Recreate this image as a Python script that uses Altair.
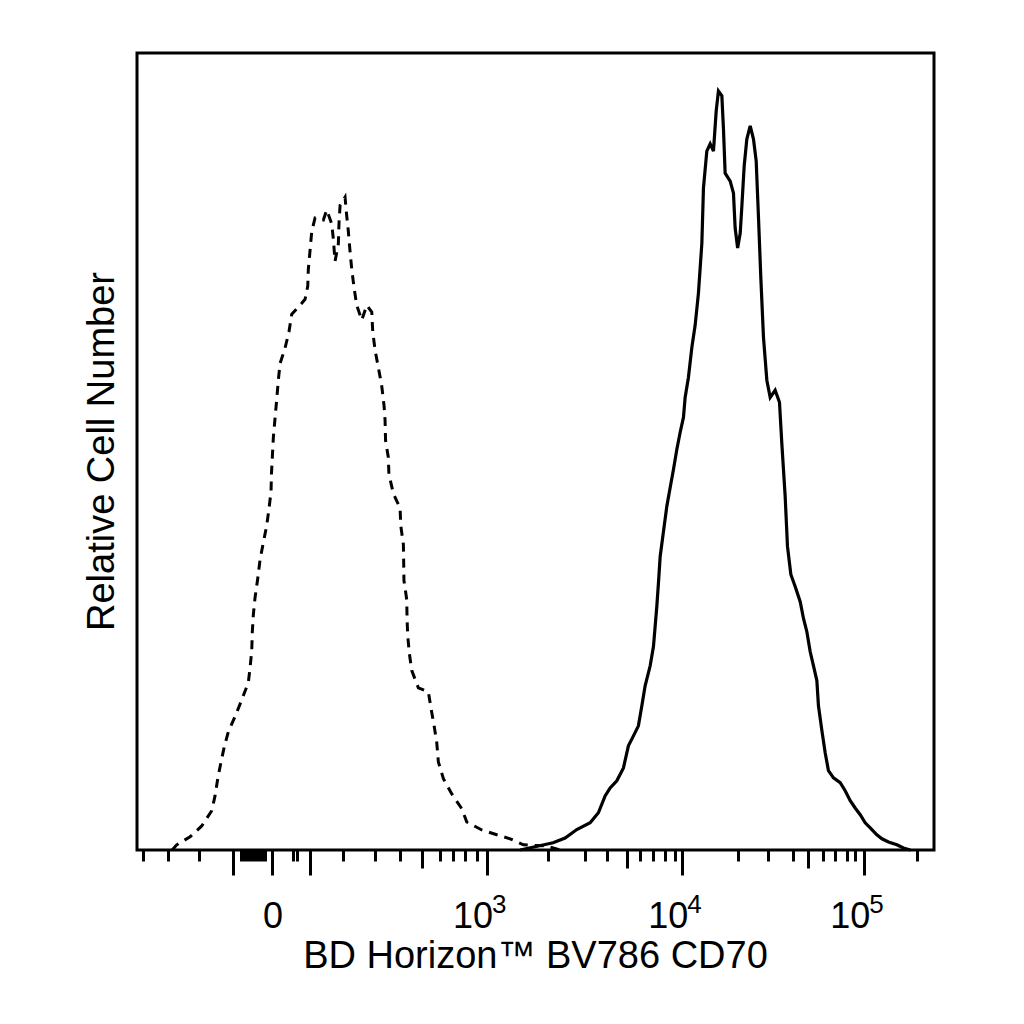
import pandas as pd
import altair as alt

# display channel (biexponential scale) and relative cell counts
iso_channel = [44, 49.6, 66.3, 80.9, 93.4, 97.5, 100.9, 105, 109.1, 114.1, 122.5, 130.9, 139.1, 141.3, 143.4,
               144.1, 145.4, 147.5, 150.9, 153.8, 157.9, 162.1, 165, 167.5, 168, 169.1, 170.4, 172.5, 174.6,
               176.6, 178.8, 185, 190, 193.4, 205.9, 210, 213.4, 214.1, 216.3, 218.4, 222.5, 232.9, 237.1,
               243.4, 245.4, 247.5, 251.6, 252.5, 253.8, 260, 262.1, 264.1, 266.3, 268.4, 271.3, 274.6, 280.9,
               287.1, 293.4, 294.6, 297.5, 301.6, 305.9, 308.8, 310, 310.6, 314.1, 314.8, 320.4, 328.8, 329.6,
               332.9, 333.3, 333.6, 337.1, 337.5, 338.4, 340.4, 343.4, 351.6, 364.1, 367.5, 371.3, 374.6,
               376.6, 382.9, 393.4, 405.9, 412.1, 430.9, 449.6, 466.3, 482.9, 512.1, 528.8]
iso_count = [0, 1.3, 3.3, 6, 9.8, 13.5, 17.8, 22, 25.8, 29.5, 33.3, 37.5, 41.8, 45.5, 49.8, 54.5, 58.8, 63,
             67.8, 72.5, 76.8, 81, 85.3, 89.5, 93.8, 98, 103, 107.8, 112.5, 117.3, 121.5, 125.3, 129.5, 133.8,
             136.5, 137.5, 140.8, 145, 149.8, 154.5, 157.8, 157.3, 159.8, 156.3, 152.5, 147, 151.3, 156.8, 161,
             163, 158.3, 154.5, 149.3, 145, 140.3, 136, 132.3, 136, 134.3, 129.5, 124.8, 120.5, 115.8, 110.8,
             107.3, 102.3, 98, 93.8, 89, 85.3, 81, 76.3, 71.5, 67.3, 62.5, 57.5, 53.3, 49, 44.8, 40.5, 39.5,
             35.3, 31, 26.8, 22, 17.8, 14, 10.3, 7, 5, 3.8, 2.8, 1.3, 1, 0]

cd70_channel = [478.8, 520, 535, 549.6, 566.3, 576.6, 585, 591.3, 599.6, 607.9, 614.1, 620.4, 626.6, 630.9,
                635, 641.3, 645.4, 647.5, 649.6, 651.6, 653.8, 657.9, 662.1, 666.3, 670.4, 674.6, 678.8,
                682.9, 685, 689.1, 693.4, 697.5, 701.6, 705.9, 707.9, 712.1, 716.3, 720.4, 723.8, 726.6,
                730.9, 732.9, 735, 741.3, 745.4, 747.5, 750.6, 753.8, 755.9, 758.8, 762.1, 766.3, 770.4,
                773.8, 776.6, 779.6, 782.9, 787.1, 791.3, 797.5, 802.9, 805.9, 810, 812.9, 817.1, 822.5,
                828.8, 832.9, 837.1, 841.3, 845.4, 849.6, 851.6, 855.9, 860, 864.1, 870.4, 878.8, 885,
                891.3, 897.5, 903.8, 910, 916.3, 924.6, 930.9, 939.1, 949.6, 957.9, 966.3]
cd70_count = [0, 1.8, 3, 5.1, 6.8, 9.3, 13.5, 15.5, 17.3, 20.5, 26, 28.5, 31, 36, 41, 46, 50.8, 55.8, 60.8,
              66.5, 73.3, 79.5, 85.8, 90.5, 95, 100, 104.3, 108, 113, 118, 125.5, 131, 139, 151.5, 165.3,
              174.5, 176.3, 174.5, 184.5, 189.5, 188.3, 180, 169, 167, 164, 155.3, 150.3, 154, 160.8, 170.8,
              177.5, 180.8, 177.5, 172, 158.3, 142.8, 128, 117.3, 113, 114.8, 111.8, 101.3, 88.3, 75.8, 68.8,
              65.8, 62, 57.8, 54.5, 49.5, 46, 42.3, 36, 29.8, 24.3, 19.8, 18, 16.8, 14.8, 12.3, 10.5, 8.8,
              6.8, 5.5, 3.8, 2.8, 2, 1.3, 0.5, 0]

# axis ticks on the display channel
tick_long = [120, 168.8, 216.3, 437.5, 681.3, 908.8]
tick_medium = [356.3, 612.5, 838.8]
tick_short = [7.9, 38.8, 77.5, 130, 133.8, 137.5, 141.3, 145, 148.8, 152.5, 156.3, 160, 195, 200,
              257.5, 297.5, 328.8, 378.8, 395, 410, 425, 513.8, 560, 587.5, 628.8, 645, 660, 672.5,
              751.3, 788.8, 820, 857.5, 872.5, 887.5, 897.5, 975]
zero_channel = [168.8]
pow_channel = [437.5, 681.3, 908.8]
pow_exp = ["3", "4", "5"]

font = "Liberation Sans"


def in_list(vals):
    return "indexof([" + ",".join(str(v) for v in vals) + "], datum.value) >= 0"


x_enc = alt.X(
    "channel:Q",
    scale=alt.Scale(domain=[0, 996], nice=False, zero=False),
    axis=alt.Axis(
        values=sorted(tick_long + tick_medium + tick_short),
        labels=False, domain=False, grid=False,
        tickColor="black", tickWidth=3,
        tickSize={"condition": [{"test": in_list(tick_long), "value": 25},
                                {"test": in_list(tick_medium), "value": 18}],
                  "value": 11},
        title="BD Horizon™ BV786 CD70",
        titleFont=font, titleFontSize=38, titleFontWeight="normal", titleColor="black",
        titleBaseline="alphabetic", titleAlign="center", titleX=398, titleY=117,
    ),
)
y_enc = alt.Y(
    "count:Q",
    scale=alt.Scale(domain=[0, 199], nice=False),
    axis=alt.Axis(
        labels=False, ticks=False, domain=False, grid=False,
        title="Relative Cell Number",
        titleFont=font, titleFontSize=38, titleFontWeight="normal", titleColor="black",
        titleAngle=270, titleBaseline="alphabetic", titleAlign="center", titleX=-24, titleY=398,
    ),
)

iso_df = pd.DataFrame({"channel": iso_channel, "count": iso_count, "i": range(len(iso_channel))})
cd70_df = pd.DataFrame({"channel": cd70_channel, "count": cd70_count, "i": range(len(cd70_channel))})
zero_df = pd.DataFrame({"channel": zero_channel, "label": ["0"]})
pow_df = pd.DataFrame({"channel": pow_channel, "base": ["10"] * 3, "exp": pow_exp})

iso = alt.Chart(iso_df).mark_line(color="black", strokeWidth=3, strokeDash=[9, 7]).encode(
    x=x_enc, y=y_enc, order="i:Q"
)
cd70 = alt.Chart(cd70_df).mark_line(color="black", strokeWidth=3.2).encode(
    x=x_enc, y=y_enc, order="i:Q"
)

zero_txt = alt.Chart(zero_df).mark_text(
    font=font, fontSize=36, color="black", align="center", baseline="alphabetic", dx=1
).encode(x=x_enc, y=alt.value(875), text="label:N")
base_txt = alt.Chart(pow_df).mark_text(
    font=font, fontSize=36, color="black", align="right", baseline="alphabetic", dx=6
).encode(x=x_enc, y=alt.value(875), text="base:N")
exp_txt = alt.Chart(pow_df).mark_text(
    font=font, fontSize=26, color="black", align="left", baseline="alphabetic", dx=5
).encode(x=x_enc, y=alt.value(860), text="exp:N")

chart = alt.layer(iso, cd70, zero_txt, base_txt, exp_txt).properties(
    width=797, height=797,
    autosize=alt.AutoSizeParams(type="none"),
    padding={"left": 129, "top": 45, "right": 60, "bottom": 150},
    background="white",
).configure_view(stroke="black", strokeWidth=3)

chart.save("out.html", embed_options={"renderer": "svg", "actions": False})
